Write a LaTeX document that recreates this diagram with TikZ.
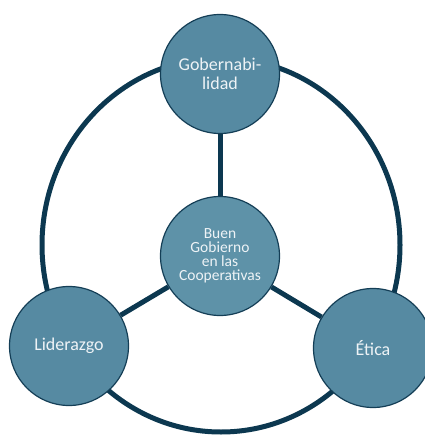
\documentclass[tikz,border=0pt]{standalone}
\usepackage{fontspec}
\setmainfont{Carlito}
\definecolor{bubble}{RGB}{86,138,162}
\definecolor{bubblec}{RGB}{94,146,168}
\definecolor{rim}{RGB}{20,62,86}
\definecolor{link}{RGB}{12,56,80}
\definecolor{label}{RGB}{238,243,246}
\tikzset{
  bub/.style={circle, draw=rim, line width=1.2pt, fill=bubble, minimum size=119pt, inner sep=0pt, text=label, align=center, font=\fontsize{18}{19}\selectfont},
  link/.style={draw=link, line width=5pt},
}
\begin{document}
\begin{tikzpicture}[x=1pt,y=1pt]
\useasboundingbox (0,0) rectangle (425,-436);
\coordinate (ringc) at (221,-245);
\draw[link] (ringc) ellipse [x radius=179, y radius=187];
\node[bub] (gob) at (220,-74) {Gobernabi-\\lidad};
\node[bub, fill=bubblec, font=\fontsize{15.5}{14}\selectfont] (cen) at (220,-256) {Buen\\Gobierno\\en las\\Cooperativas};
\node[bub] (lid) at (69,-346) {Liderazgo};
\node[bub] (eti) at (373,-348) {Ética};
\draw[link] (cen) -- (gob);
\draw[link] (cen) -- (lid);
\draw[link] (cen) -- (eti);
\end{tikzpicture}
\end{document}
